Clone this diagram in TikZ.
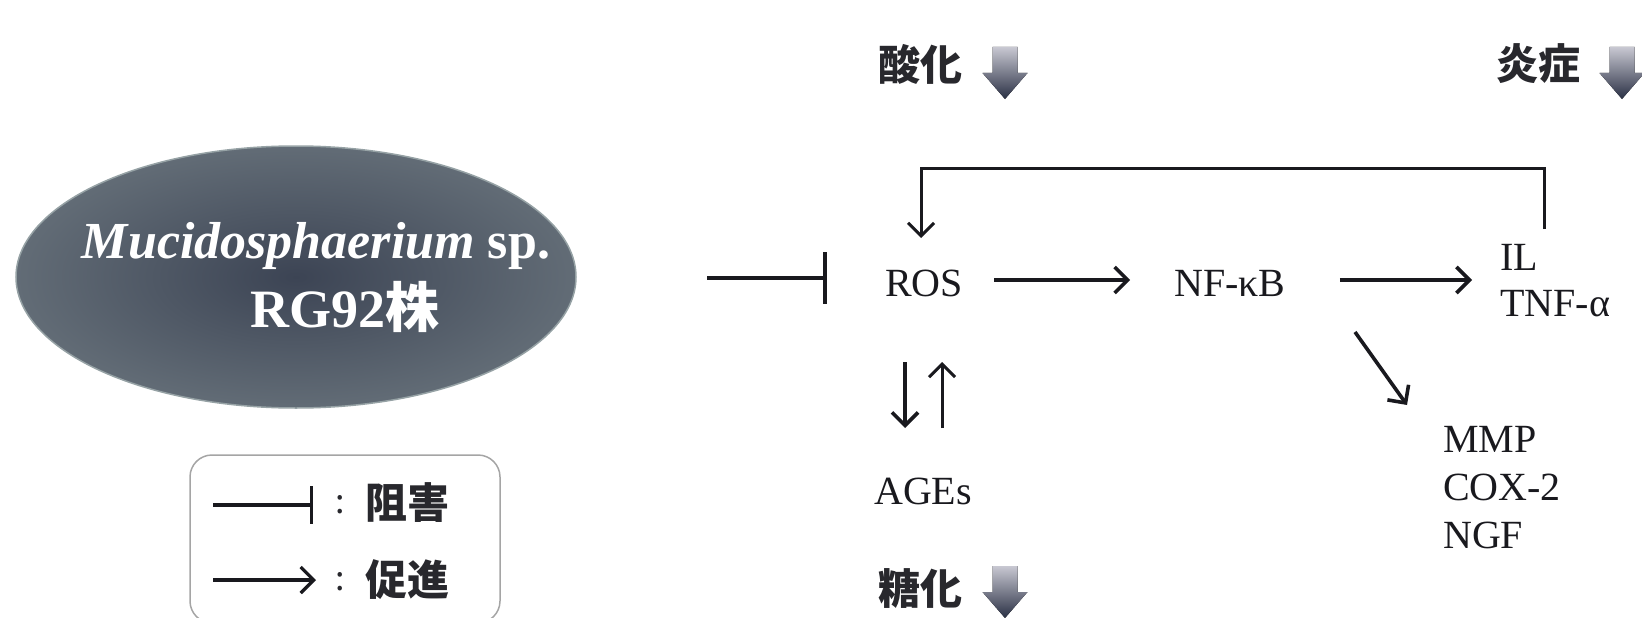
\documentclass[tikz,border=0pt]{standalone}
\usepackage{fontspec}
\setmainfont{Liberation Serif}
\newfontfamily\cjk{Noto Sans CJK JP}
\usetikzlibrary{arrows.meta,shapes.geometric}
\definecolor{ellin}{RGB}{60,68,84}
\definecolor{ellout}{RGB}{98,108,118}
\definecolor{ellrim}{RGB}{150,162,165}
\definecolor{gtop}{RGB}{200,200,210}
\definecolor{gbot}{RGB}{42,48,68}
\definecolor{legline}{RGB}{165,165,165}
\definecolor{ink}{RGB}{25,25,30}
\definecolor{jink}{RGB}{40,40,45}
\begin{document}
\begin{tikzpicture}[x=1pt,y=-1pt,
  lab/.style={font=\fontsize{40}{46}\selectfont, inner sep=0pt, text=ink},
  jlab/.style={font=\cjk\bfseries\fontsize{42}{48}\selectfont, inner sep=0pt, text=jink},
  arr/.style={draw=ink, line width=3.6pt, -{Straight Barb[length=13pt,width=26pt]}},
  inh/.style={draw=ink, line width=3.6pt, -{Bar[width=52pt]}},
  gradarr/.pic={\fill[top color=gtop,bottom color=gbot] (-12.5,-26) -- (12.5,-26) -- (12.5,0) -- (22.5,0) -- (0,26) -- (-22.5,0) -- (-12.5,0) -- cycle;}
]
\useasboundingbox (0,0) rectangle (1642,618);

% organism ellipse
\node[ellipse, minimum width=560pt, minimum height=262pt, inner color=ellin, outer color=ellout, draw=ellrim, line width=1.5pt] (ell) at (296,277) {};
\node[font=\fontsize{52}{60}\selectfont\bfseries, text=white, inner sep=0pt] (t1) at (316,246) {\itshape Mucidosphaerium\/ \upshape sp.};
\node[font=\fontsize{54}{60}\selectfont\bfseries, text=white, inner sep=0pt] (t2) at (345,307) {RG92{\cjk\bfseries 株}};

% top labels
\node[jlab] (sanka) at (920,64) {酸化};
\pic at (1005,73) {gradarr};
\node[jlab] (ensho) at (1538,64) {炎症};
\pic at (1622,73) {gradarr};

% main chain
\node[lab] (ros) at (924,283) {ROS};
\node[lab] (nfkb) at (1230,283) {NF-κB};
\node[lab, anchor=west, align=left] (il) at (1500,281) {IL\\TNF-α};
\node[lab, anchor=west, align=left, font=\fontsize{40}{48}\selectfont] (mmp) at (1443,488) {MMP\\COX-2\\NGF};
\node[lab] (ages) at (923,491) {AGEs};
\node[jlab] (toka) at (920,588) {糖化};
\pic at (1005,592) {gradarr};

% inhibition
\coordinate (inhS) at (707,278);
\coordinate (inhE) at (827,278);
\draw[inh] (inhS) -- (inhE);

\draw[arr] ([xshift=31pt,yshift=3pt]ros.east) -- ([xshift=-44pt,yshift=3pt]nfkb.west);
\draw[arr] ([xshift=54pt,yshift=3pt]nfkb.east) -- ([xshift=-28pt,yshift=1pt]il.west);

% feedback loop
\coordinate (fbS) at (1544,229);
\coordinate (fbC) at (1544,168);
\coordinate (fbT) at (921,238);
\draw[arr, line width=3pt] (fbS) -- (fbC) -| (fbT);

% diagonal
\coordinate (dg1) at (1355,332);
\coordinate (dg2) at (1407,405);
\draw[arr] (dg1) -- (dg2);

% ROS <-> AGEs
\coordinate (dnS) at (905,362);
\coordinate (dnE) at (905,428);
\coordinate (upS) at (942,428);
\coordinate (upE) at (942,362);
\draw[arr] (dnS) -- (dnE);
\draw[arr, line width=3pt] (upS) -- (upE);

% legend
\node[draw=legline, line width=1.5pt, rounded corners=22pt, minimum width=310pt, minimum height=168pt, inner sep=0pt] (leg) at (345,539) {};
\coordinate (l1S) at (213,505);
\coordinate (l1E) at (313,505);
\draw[inh, line width=3.2pt, -{Bar[width=38pt]}] (l1S) -- (l1E);
\node[jlab, font=\cjk\fontsize{34}{40}\selectfont] (c1) at (340,505) {:};
\node[jlab] (sogai) at (407,503) {阻害};
\coordinate (l2S) at (213,580);
\coordinate (l2E) at (316,580);
\draw[arr, line width=3.2pt] (l2S) -- (l2E);
\node[jlab, font=\cjk\fontsize{34}{40}\selectfont] (c2) at (340,582) {:};
\node[jlab] (sokushin) at (407,580) {促進};
\end{tikzpicture}
\end{document}
